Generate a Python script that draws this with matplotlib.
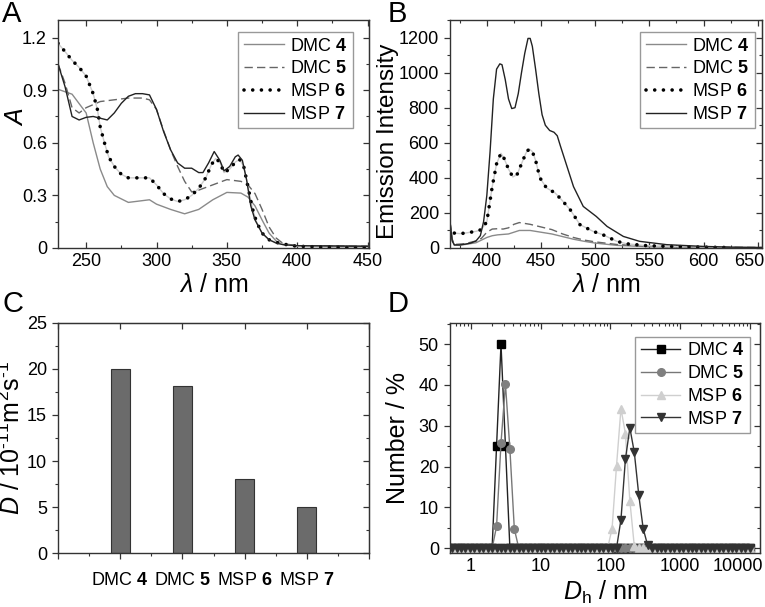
import matplotlib
matplotlib.use("Agg")
import matplotlib.pyplot as plt
import matplotlib.transforms as mtrans
from matplotlib.ticker import MultipleLocator, LogLocator, FixedLocator, FixedFormatter, NullFormatter
import numpy as np

plt.rcParams['font.family'] = ['Liberation Sans', 'DejaVu Sans']
plt.rcParams['mathtext.fontset'] = 'custom'
plt.rcParams['mathtext.rm'] = 'Liberation Sans'
plt.rcParams['mathtext.it'] = 'Liberation Sans:italic'
plt.rcParams['mathtext.bf'] = 'Liberation Sans:bold'

names = ['DMC $\\mathbf{4}$', 'DMC $\\mathbf{5}$', 'MSP $\\mathbf{6}$', 'MSP $\\mathbf{7}$']

# --- A: absorbance ---
abs_x4 = [230, 240, 250, 255, 260, 265, 270, 280, 290, 295, 300, 310, 320, 330, 340, 350, 360, 365, 370,
          375, 380, 385, 390, 400, 450]
abs_y4 = [0.905, 0.877, 0.77, 0.6, 0.45, 0.35, 0.30, 0.26, 0.27, 0.275, 0.25, 0.22, 0.195, 0.22, 0.275,
          0.317, 0.313, 0.29, 0.24, 0.16, 0.085, 0.04, 0.02, 0.013, 0.01]
abs_x5 = [230, 235, 240, 245, 250, 260, 270, 280, 290, 295, 300, 305, 310, 315, 320, 325, 330, 340, 350,
          360, 365, 370, 375, 380, 385, 390, 400, 450]
abs_y5 = [1.05, 0.94, 0.80, 0.77, 0.80, 0.835, 0.845, 0.855, 0.855, 0.845, 0.79, 0.67, 0.56, 0.465, 0.38,
          0.32, 0.33, 0.36, 0.39, 0.38, 0.36, 0.31, 0.22, 0.12, 0.057, 0.025, 0.013, 0.01]
abs_x6 = [230, 235, 240, 245, 250, 255, 258, 260, 263, 266, 270, 275, 280, 285, 290, 295, 300, 305, 310,
          315, 320, 325, 330, 335, 339, 342, 345, 348, 352, 356, 359, 362, 365, 368, 371, 375, 380, 385,
          390, 395, 400, 420, 450]
abs_y6 = [1.167, 1.12, 1.07, 1.03, 0.98, 0.88, 0.79, 0.69, 0.60, 0.52, 0.465, 0.42, 0.40, 0.40, 0.40,
          0.40, 0.36, 0.31, 0.28, 0.265, 0.275, 0.30, 0.34, 0.40, 0.475, 0.51, 0.49, 0.43, 0.45, 0.49,
          0.505, 0.465, 0.35, 0.23, 0.15, 0.085, 0.047, 0.032, 0.023, 0.015, 0.01, 0.005, 0.0]
abs_x7 = [230, 235, 240, 245, 250, 255, 260, 265, 270, 275, 280, 285, 290, 295, 300, 305, 310, 315, 320,
          325, 330, 333, 337, 341, 345, 348, 352, 356, 358, 361, 364, 367, 370, 375, 380, 385, 390, 400, 450]
abs_y7 = [1.05, 0.92, 0.75, 0.73, 0.745, 0.75, 0.74, 0.73, 0.77, 0.825, 0.865, 0.88, 0.88, 0.873, 0.79,
          0.665, 0.56, 0.485, 0.455, 0.455, 0.43, 0.43, 0.485, 0.55, 0.50, 0.44, 0.465, 0.52, 0.53, 0.50,
          0.39, 0.24, 0.16, 0.085, 0.047, 0.028, 0.019, 0.013, 0.01]

# --- B: emission ---
em_x4 = [366, 368, 370, 380, 390, 400, 405, 410, 420, 430, 440, 450, 460, 470, 480, 490, 500, 520, 550, 600, 654]
em_y4 = [150, 50, 15, 20, 30, 60, 70, 75, 80, 100, 100, 90, 80, 65, 50, 38, 28, 15, 7, 3, 2]
em_x5 = [366, 368, 370, 380, 390, 395, 400, 405, 410, 415, 420, 425, 430, 435, 440, 450, 460, 470, 480,
         490, 500, 520, 550, 600, 654]
em_y5 = [150, 50, 20, 25, 40, 55, 90, 108, 110, 108, 115, 135, 145, 140, 135, 120, 105, 80, 60, 45, 35,
         20, 10, 5, 3]
em_x6 = [370, 375, 380, 385, 390, 395, 400, 405, 409, 413, 416, 420, 424, 428, 432, 436, 439, 442, 445,
         449, 455, 463, 469, 477, 486, 498, 507, 520, 529, 548, 575, 600, 620]
em_y6 = [85, 82, 85, 90, 95, 105, 150, 350, 480, 540, 510, 450, 405, 420, 480, 540, 565, 550, 500, 400,
         343, 314, 275, 218, 133, 95, 76, 38, 24, 13, 8, 5, 3]
em_x7 = [366, 368, 370, 375, 380, 385, 390, 394, 397, 400, 403, 406, 409, 412, 414, 417, 420, 423, 426,
         429, 432, 435, 438, 440, 442, 445, 448, 451, 454, 458, 462, 465, 468, 474, 480, 489, 501, 511,
         526, 541, 566, 600, 625, 654]
em_y7 = [150, 40, 18, 17, 22, 28, 40, 70, 150, 300, 550, 850, 1020, 1050, 1045, 960, 850, 795, 800, 880,
         1000, 1110, 1195, 1195, 1150, 1020, 880, 760, 700, 670, 660, 640, 580, 465, 350, 237, 180, 123,
         66, 38, 19, 9, 5, 3]

# --- C: diffusion coefficients ---
diff_vals = [20.0, 18.2, 8.0, 5.0]

# --- D: DLS number distribution (70 instrument bins 0.4 - 10000 nm) ---
dh_bins = np.logspace(np.log10(0.4), 4, 70)
num4 = [0] * 12 + [25.0, 50.0, 25.0] + [0] * 55
num5 = [0] * 12 + [5.3, 25.8, 40.2, 24.3, 4.7] + [0] * 53
num6 = [0] * 38 + [4.8, 20.2, 34.2, 28.1, 11.6, 0.5] + [0] * 26
num7 = [0] * 40 + [7.0, 21.8, 29.5, 23.5, 13.1, 4.8, 0.7] + [0] * 23

W, H = 765, 607
fig = plt.figure(figsize=(W / 100, H / 100), dpi=100)


def pax(l, t, r, b):
    return fig.add_axes([l / W, 1 - b / H, (r - l) / W, (b - t) / H])


TS = 13
LS = 18
spine_c = '#333333'


def style(ax, bottom_out=False):
    for s in ax.spines.values():
        s.set_color(spine_c)
        s.set_linewidth(1.0)
    ax.tick_params(which='both', colors=spine_c, labelcolor='black', labelsize=TS)
    ax.tick_params(which='major', length=4.5, width=0.9)
    ax.tick_params(which='minor', length=2.5, width=0.8)
    ax.tick_params(axis='y', which='both', direction='out', right=False)
    ax.tick_params(axis='x', which='both', direction='in', top=True)
    sec = ax.secondary_yaxis('right')
    sec.set_yticks(ax.get_yticks())
    sec.yaxis.set_minor_locator(ax.yaxis.get_minor_locator())
    sec.tick_params(which='both', direction='in', labelright=False, colors=spine_c)
    sec.tick_params(which='major', length=4.5, width=0.9)
    sec.tick_params(which='minor', length=2.5, width=0.8)
    sec.spines['right'].set_color(spine_c)
    if bottom_out:
        ax.tick_params(axis='x', which='both', direction='out', top=False)
        sx = ax.secondary_xaxis('top')
        sx.tick_params(which='both', direction='in', labeltop=False, colors=spine_c)
        sx.tick_params(which='major', length=4.5, width=0.9)
        sx.tick_params(which='minor', length=2.5, width=0.8)
        sx.spines['top'].set_color(spine_c)


def legend(ax, bbox):
    lg = ax.legend(loc='upper right', bbox_to_anchor=bbox, fontsize=TS, frameon=True, fancybox=False,
                   edgecolor='#999999', framealpha=1, handlelength=2.2, handletextpad=0.35,
                   labelspacing=0.32, borderpad=0.3, borderaxespad=0.0)
    lg.get_frame().set_linewidth(1.0)
    return lg


def shift_last_label(ax, dx_px):
    lab = ax.get_xticklabels()[-1]
    lab.set_transform(lab.get_transform() + mtrans.ScaledTranslation(dx_px / 100, 0, fig.dpi_scale_trans))


# Panel A
axA = pax(58, 20, 369, 248)
axA.plot(abs_x4, abs_y4, color='#8a8a8a', lw=1.0, label=names[0])
axA.plot(abs_x5, abs_y5, color='#666666', lw=1.0, ls=(0, (6, 3)), label=names[1])
axA.plot(abs_x6, abs_y6, color='#cccccc', lw=1.0)
axA.plot(abs_x6, abs_y6, color='black', lw=2.6, ls=(0, (0.01, 2.4)), dash_capstyle='round', label=names[2])
axA.plot(abs_x7, abs_y7, color='#222222', lw=1.0, label=names[3])
axA.set_xlim(230, 451)
axA.set_ylim(0, 1.3)
axA.xaxis.set_major_locator(MultipleLocator(50))
axA.xaxis.set_minor_locator(MultipleLocator(25))
axA.set_yticks([0, 0.3, 0.6, 0.9, 1.2], ['0', '0.3', '0.6', '0.9', '1.2'])
axA.yaxis.set_minor_locator(MultipleLocator(0.15))
style(axA)
axA.set_xlabel('$λ$ / nm', fontsize=LS)
axA.xaxis.set_label_coords(0.5, -0.11)
axA.set_ylabel('$A$', fontsize=LS)
axA.yaxis.set_label_coords(-0.095, 0.575)
legend(axA, (0.949, 0.947))

# Panel B
axB = pax(450, 20, 762, 248)
axB.plot(em_x4, em_y4, color='#8a8a8a', lw=1.0, label=names[0])
axB.plot(em_x5, em_y5, color='#666666', lw=1.0, ls=(0, (6, 3)), label=names[1])
axB.plot(em_x6, em_y6, color='#cccccc', lw=1.0)
axB.plot(em_x6, em_y6, color='black', lw=2.6, ls=(0, (0.01, 2.4)), dash_capstyle='round', label=names[2])
axB.plot(em_x7, em_y7, color='#222222', lw=1.0, label=names[3])
axB.set_xlim(366, 654)
axB.set_ylim(0, 1300)
axB.set_xticks([400, 450, 500, 550, 600, 650])
axB.xaxis.set_minor_locator(MultipleLocator(25))
axB.set_yticks([0, 200, 400, 600, 800, 1000, 1200])
axB.yaxis.set_minor_locator(MultipleLocator(100))
style(axB)
axB.set_xlabel('$λ$ / nm', fontsize=LS)
axB.xaxis.set_label_coords(0.5, -0.11)
axB.set_ylabel('Emission Intensity', fontsize=17.5)
axB.yaxis.set_label_coords(-0.162, 0.47)
legend(axB, (0.978, 0.947))
shift_last_label(axB, -8)

# Panel C
axC = pax(58, 323, 369, 553)
axC.bar([1, 2, 3, 4], diff_vals, width=0.3, color='#6b6b6b', edgecolor='#333333', linewidth=0.8)
axC.set_xlim(0, 5)
axC.set_ylim(0, 25)
axC.xaxis.set_major_locator(FixedLocator([0, 1, 2, 3, 4, 5]))
axC.xaxis.set_major_formatter(FixedFormatter(['', names[0], names[1], names[2], names[3], '']))
axC.xaxis.set_minor_locator(MultipleLocator(0.5))
axC.set_yticks([0, 5, 10, 15, 20, 25])
axC.yaxis.set_minor_locator(MultipleLocator(2.5))
style(axC, bottom_out=True)
axC.tick_params(axis='x', which='major', pad=9)
axC.set_ylabel('$D$ / 10$^{\u2010 11}$m$^{2}$s$^{\u2010 1}$', fontsize=LS)
axC.yaxis.set_label_coords(-0.105, 0.5)

# Panel D
axD = pax(450, 323, 760, 553)
dcols = [('#222222', 'black', 's'), ('#777777', '#7f7f7f', 'o'),
         ('#cfcfcf', '#cfcfcf', '^'), ('#333333', '#333333', 'v')]
for yv, (lc, mc, mk), nm in zip([num4, num5, num6, num7], dcols, names):
    axD.plot(dh_bins, yv, color=lc, lw=1.0, marker=mk, ms=5.5, mfc=mc, mec=mc, label=nm)
axD.set_xscale('log')
axD.set_xlim(0.5, 14000)
axD.set_ylim(-1.2, 55.2)
axD.set_xticks([1, 10, 100, 1000, 10000], ['1', '10', '100', '1000', '10000'])
axD.xaxis.set_minor_locator(LogLocator(base=10, subs=np.arange(2, 10), numticks=10))
axD.xaxis.set_minor_formatter(NullFormatter())
axD.set_yticks([0, 10, 20, 30, 40, 50])
axD.yaxis.set_minor_locator(MultipleLocator(5))
style(axD)
axD.set_xlabel('$D_{\\mathrm{h}}$ / nm', fontsize=LS)
axD.xaxis.set_label_coords(0.5, -0.11)
axD.set_ylabel('Number / %', fontsize=LS)
axD.yaxis.set_label_coords(-0.13, 0.5)
legend(axD, (0.968, 0.939))
shift_last_label(axD, -12)

for lbl, x, y in [('A', 2, 0), ('B', 388, 0), ('C', 2, 290), ('D', 388, 290)]:
    fig.text(x / W, 1 - y / H, lbl, fontsize=21, ha='left', va='top')

fig.savefig('out.png', dpi=100)
